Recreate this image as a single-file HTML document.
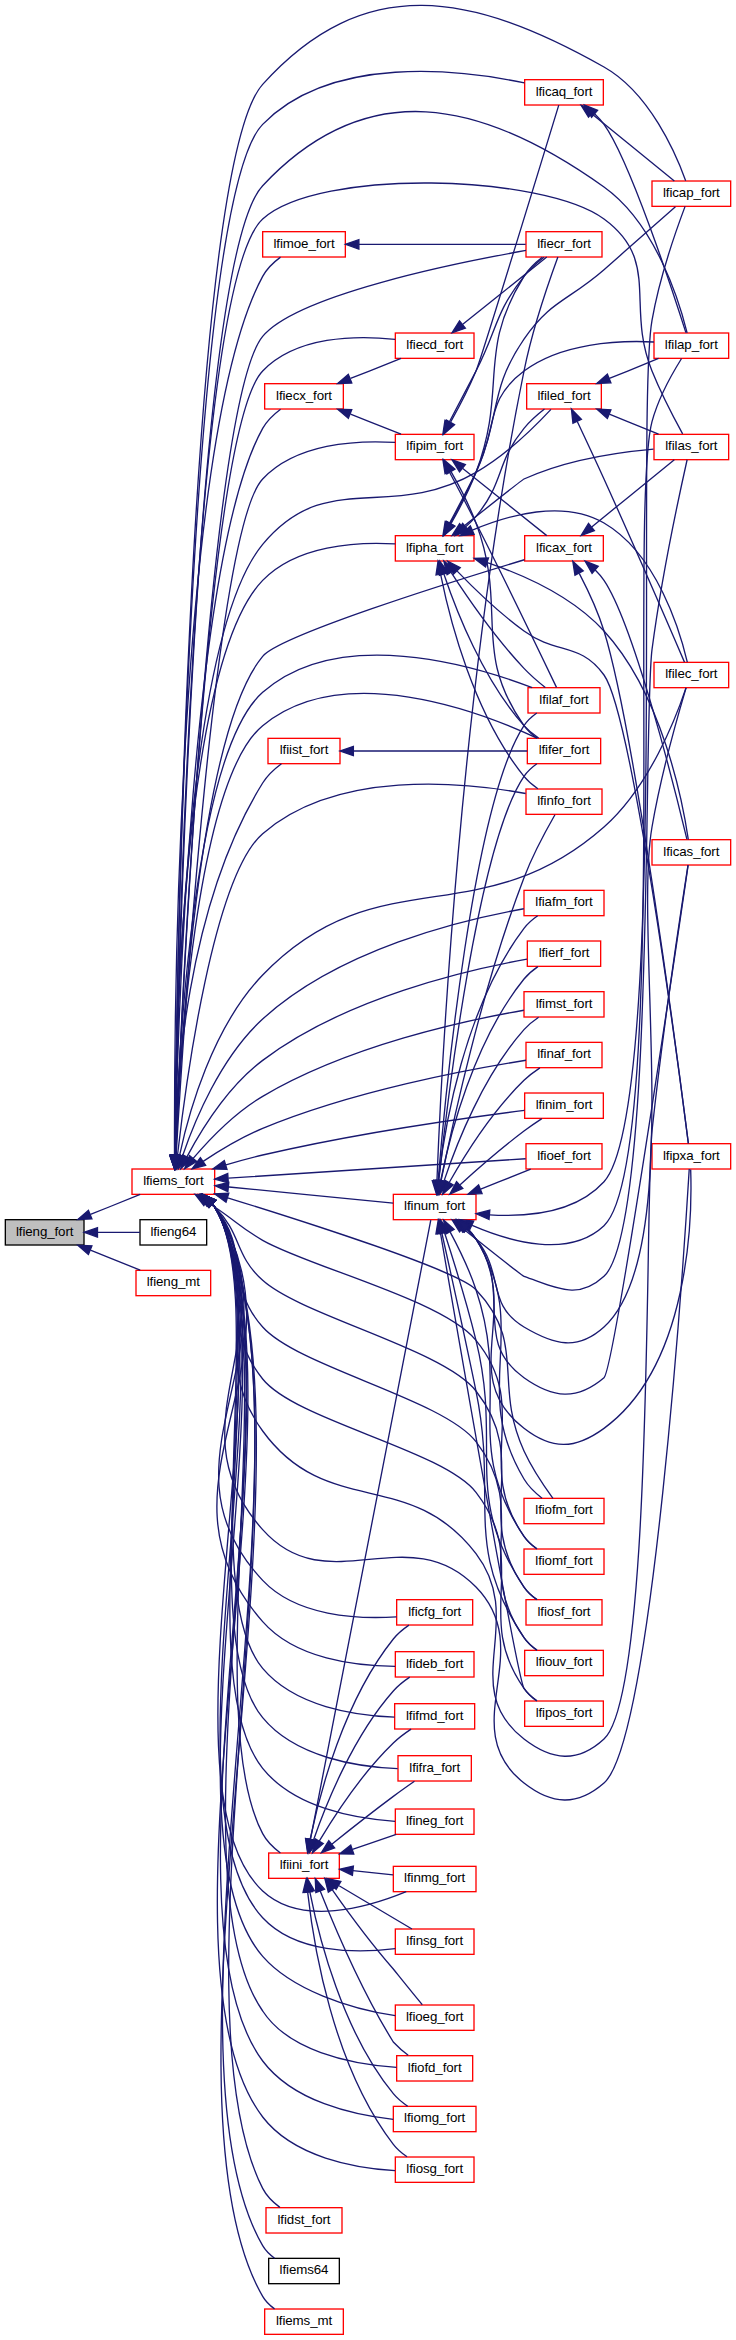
<!DOCTYPE html>
<html lang="en"><head><meta charset="utf-8"><title>lfieng_fort</title>
<style>
html,body{margin:0;padding:0;background:#fff}
svg{display:block}
.n rect{stroke-width:1.33}
.n text{font-family:"Liberation Sans","DejaVu Sans",sans-serif;font-size:13.33px;text-anchor:middle;letter-spacing:-0.1px;fill:#000}
.e path{fill:none;stroke:#191970;stroke-width:1.33}
.e polygon{fill:#191970;stroke:#191970;stroke-width:1.33}
</style></head>
<body>
<svg width="736" height="2340" viewBox="0 0 736 2340">
<rect x="0" y="0" width="736" height="2340" fill="#fff"/>
<g transform="translate(0 0)">
<g class="n">
<rect x="5.33" y="1219.68" width="78.67" height="25.33" fill="#bfbfbf" stroke="black"/><text x="44.67" y="1235.68">lfieng_fort</text>
<rect x="132" y="1169.01" width="82.67" height="25.33" fill="white" stroke="red"/><text x="173.33" y="1185.01">lfiems_fort</text>
<rect x="140" y="1219.68" width="66.67" height="25.33" fill="white" stroke="black"/><text x="173.33" y="1235.68">lfieng64</text>
<rect x="136" y="1270.35" width="74.67" height="25.33" fill="white" stroke="red"/><text x="173.33" y="1286.35">lfieng_mt</text>
<rect x="524" y="890.35" width="80" height="25.33" fill="white" stroke="red"/><text x="564" y="906.35">lfiafm_fort</text>
<rect x="652" y="181.01" width="78.67" height="25.33" fill="white" stroke="red"/><text x="691.33" y="197.01">lficap_fort</text>
<rect x="524.67" y="79.68" width="78.67" height="25.33" fill="white" stroke="red"/><text x="564" y="95.68">lficaq_fort</text>
<rect x="654" y="333.01" width="74.67" height="25.33" fill="white" stroke="red"/><text x="691.33" y="349.01">lfilap_fort</text>
<rect x="652" y="839.68" width="78.67" height="25.33" fill="white" stroke="red"/><text x="691.33" y="855.68">lficas_fort</text>
<rect x="524.67" y="535.68" width="78.67" height="25.33" fill="white" stroke="red"/><text x="564" y="551.68">lficax_fort</text>
<rect x="654" y="434.35" width="74.67" height="25.33" fill="white" stroke="red"/><text x="691.33" y="450.35">lfilas_fort</text>
<rect x="652" y="1143.68" width="78.67" height="25.33" fill="white" stroke="red"/><text x="691.33" y="1159.68">lfipxa_fort</text>
<rect x="396.67" y="1599.68" width="76" height="25.33" fill="white" stroke="red"/><text x="434.67" y="1615.68">lficfg_fort</text>
<rect x="395.33" y="1651.68" width="78.67" height="25.33" fill="white" stroke="red"/><text x="434.67" y="1667.68">lfideb_fort</text>
<rect x="266" y="2207.68" width="76" height="25.33" fill="white" stroke="red"/><text x="304" y="2223.68">lfidst_fort</text>
<rect x="395.33" y="333.01" width="78.67" height="25.33" fill="white" stroke="red"/><text x="434.67" y="349.01">lfiecd_fort</text>
<rect x="526" y="231.68" width="76" height="25.33" fill="white" stroke="red"/><text x="564" y="247.68">lfiecr_fort</text>
<rect x="264.67" y="383.68" width="78.67" height="25.33" fill="white" stroke="red"/><text x="304" y="399.68">lfiecx_fort</text>
<rect x="395.33" y="434.35" width="78.67" height="25.33" fill="white" stroke="red"/><text x="434.67" y="450.35">lfipim_fort</text>
<rect x="527.33" y="738.35" width="73.33" height="25.33" fill="white" stroke="red"/><text x="564" y="754.35">lfifer_fort</text>
<rect x="528" y="687.68" width="72" height="25.33" fill="white" stroke="red"/><text x="564" y="703.68">lfilaf_fort</text>
<rect x="268.67" y="2258.35" width="70.67" height="25.33" fill="white" stroke="black"/><text x="304" y="2274.35">lfiems64</text>
<rect x="264.67" y="2309.01" width="78.67" height="25.33" fill="white" stroke="red"/><text x="304" y="2325.01">lfiems_mt</text>
<rect x="527.33" y="941.01" width="73.33" height="25.33" fill="white" stroke="red"/><text x="564" y="957.01">lfierf_fort</text>
<rect x="394.67" y="1703.68" width="80" height="25.33" fill="white" stroke="red"/><text x="434.67" y="1719.68">lfifmd_fort</text>
<rect x="398" y="1755.68" width="73.33" height="25.33" fill="white" stroke="red"/><text x="434.67" y="1771.68">lfifra_fort</text>
<rect x="268.67" y="1853.01" width="70.67" height="25.33" fill="white" stroke="red"/><text x="304" y="1869.01">lfiini_fort</text>
<rect x="395.33" y="1809.01" width="78.67" height="25.33" fill="white" stroke="red"/><text x="434.67" y="1825.01">lfineg_fort</text>
<rect x="393.33" y="1866.35" width="82.67" height="25.33" fill="white" stroke="red"/><text x="434.67" y="1882.35">lfinmg_fort</text>
<rect x="395.33" y="1929.01" width="78.67" height="25.33" fill="white" stroke="red"/><text x="434.67" y="1945.01">lfinsg_fort</text>
<rect x="393.33" y="1194.35" width="82.67" height="25.33" fill="white" stroke="red"/><text x="434.67" y="1210.35">lfinum_fort</text>
<rect x="654" y="662.35" width="74.67" height="25.33" fill="white" stroke="red"/><text x="691.33" y="678.35">lfilec_fort</text>
<rect x="524" y="991.68" width="80" height="25.33" fill="white" stroke="red"/><text x="564" y="1007.68">lfimst_fort</text>
<rect x="526" y="1042.35" width="76" height="25.33" fill="white" stroke="red"/><text x="564" y="1058.35">lfinaf_fort</text>
<rect x="526" y="789.01" width="76" height="25.33" fill="white" stroke="red"/><text x="564" y="805.01">lfinfo_fort</text>
<rect x="524.67" y="1093.01" width="78.67" height="25.33" fill="white" stroke="red"/><text x="564" y="1109.01">lfinim_fort</text>
<rect x="526" y="1143.68" width="76" height="25.33" fill="white" stroke="red"/><text x="564" y="1159.68">lfioef_fort</text>
<rect x="524" y="1498.35" width="80" height="25.33" fill="white" stroke="red"/><text x="564" y="1514.35">lfiofm_fort</text>
<rect x="524" y="1549.01" width="80" height="25.33" fill="white" stroke="red"/><text x="564" y="1565.01">lfiomf_fort</text>
<rect x="526" y="1599.68" width="76" height="25.33" fill="white" stroke="red"/><text x="564" y="1615.68">lfiosf_fort</text>
<rect x="524.67" y="1650.35" width="78.67" height="25.33" fill="white" stroke="red"/><text x="564" y="1666.35">lfiouv_fort</text>
<rect x="524.67" y="1701.01" width="78.67" height="25.33" fill="white" stroke="red"/><text x="564" y="1717.01">lfipos_fort</text>
<rect x="395.33" y="2005.01" width="78.67" height="25.33" fill="white" stroke="red"/><text x="434.67" y="2021.01">lfioeg_fort</text>
<rect x="396.67" y="2055.68" width="76" height="25.33" fill="white" stroke="red"/><text x="434.67" y="2071.68">lfiofd_fort</text>
<rect x="393.33" y="2106.35" width="82.67" height="25.33" fill="white" stroke="red"/><text x="434.67" y="2122.35">lfiomg_fort</text>
<rect x="395.33" y="2157.01" width="78.67" height="25.33" fill="white" stroke="red"/><text x="434.67" y="2173.01">lfiosg_fort</text>
<rect x="268" y="738.35" width="72" height="25.33" fill="white" stroke="red"/><text x="304" y="754.35">lfiist_fort</text>
<rect x="526.67" y="383.68" width="74.67" height="25.33" fill="white" stroke="red"/><text x="564" y="399.68">lfiled_fort</text>
<rect x="262.67" y="231.68" width="82.67" height="25.33" fill="white" stroke="red"/><text x="304" y="247.68">lfimoe_fort</text>
<rect x="395.33" y="535.68" width="78.67" height="25.33" fill="white" stroke="red"/><text x="434.67" y="551.68">lfipha_fort</text>
</g>
<g class="e">
<path d="M90.47,1214.47C106.88,1207.87 125.15,1200.52 140.21,1194.47"/><polygon points="91.91,1218.92 77.8,1219.56 88.43,1210.25 91.91,1218.92"/>
<path d="M97.55,1232.35C111.89,1232.35 127.05,1232.35 139.93,1232.35"/><polygon points="97.48,1237.01 84.15,1232.35 97.48,1227.68 97.48,1237.01"/>
<path d="M90.47,1250.23C106.88,1256.83 125.15,1264.17 140.21,1270.23"/><polygon points="88.43,1254.44 77.8,1245.13 91.91,1245.77 88.43,1254.44"/>
<path d="M182.53,1156.04C194.53,1120.81 220.56,1057.45 262.67,1019.01C338.96,949.36 461.65,919.8 523.84,908.76"/><polygon points="186.93,1157.61 178.37,1168.85 178.05,1154.73 186.93,1157.61"/>
<path d="M174.89,1155.29C176.53,995.96 188.59,166.36 262.67,84.35C364.48,-28.37 471.67,-7.56 604,67.01C649.61,92.72 675.96,153.87 685.67,180.69"/><polygon points="179.56,1155.64 174.77,1168.93 170.23,1155.55 179.56,1155.64"/>
<path d="M174.89,1155.21C176.52,998.89 188.39,200.37 262.67,124.35C331.31,54.09 460.33,69.59 524.47,82.91"/><polygon points="179.56,1155.71 174.76,1169 170.23,1155.61 179.56,1155.71"/>
<path d="M175.09,1154.93C177.79,1003.56 194.41,258.43 262.67,185.68C366.47,75.04 480.49,98.92 604,187.01C655.79,223.95 679.52,302.08 687.12,332.84"/><polygon points="179.76,1155.47 174.87,1168.72 170.43,1155.31 179.76,1155.47"/>
<path d="M211.91,1203.51C212.89,1204.63 213.83,1205.8 214.67,1207.01C272.88,1290.55 202.68,1348.75 262.67,1431.01C327.11,1519.39 409.71,1466.69 476,1553.68C527.57,1621.36 456.71,1686.93 524,1739.01C552.12,1760.77 577.89,1763.15 604,1739.01C653.77,1693.01 644.75,1198.39 652,1131.01C663.07,1028.09 681.87,904.53 688,865.09"/><polygon points="208.68,1206.89 201.71,1194.6 214.83,1199.85 208.68,1206.89"/>
<path d="M175.67,1154.71C179.77,1058.47 198.25,733.51 262.67,656.35C280.09,635.47 447.52,583.01 524.4,559.76"/><polygon points="180.31,1155.44 175.12,1168.57 170.99,1155.07 180.31,1155.44"/>
<path d="M175.01,1155.2C177.2,1006.91 191.51,283.96 262.67,219.01C318.69,167.88 542.81,174.17 604,219.01C661.15,260.89 625.41,305.35 652,371.01C661.19,393.71 674.44,418.93 682.63,433.85"/><polygon points="179.68,1155.45 174.83,1168.72 170.35,1155.33 179.68,1155.45"/>
<path d="M212.01,1203.44C212.97,1204.59 213.85,1205.77 214.67,1207.01C293.75,1328.53 166.2,1421.44 262.67,1529.68C327.99,1602.97 407.36,1516.81 476,1587.01C538.71,1651.13 453.44,1727.65 524,1783.01C551.97,1804.96 577.2,1806.39 604,1783.01C652.31,1740.88 684.04,1254.25 689.24,1169.04"/><polygon points="208.77,1206.81 201.95,1194.44 215,1199.85 208.77,1206.81"/>
<path d="M212.04,1203.41C212.99,1204.57 213.87,1205.76 214.67,1207.01C304.52,1348.12 147.83,1458.71 262.67,1580.35C296.71,1616.4 357.47,1619.33 396.56,1616.83"/><polygon points="208.8,1206.79 202.03,1194.39 215.05,1199.85 208.8,1206.79"/>
<path d="M212.07,1203.4C213,1204.56 213.88,1205.76 214.67,1207.01C313.33,1364.13 140.25,1482.27 262.67,1621.68C295.51,1659.09 355.72,1666.16 395.13,1666.36"/><polygon points="208.83,1206.77 202.08,1194.36 215.09,1199.85 208.83,1206.77"/>
<path d="M212.57,1203.87C213.33,1204.88 214.03,1205.92 214.67,1207.01C324.59,1395.67 163.31,1993.93 262.67,2188.35C266.55,2195.95 273.15,2202.35 279.88,2207.39"/><polygon points="209.17,1207.07 202.75,1194.49 215.61,1200.32 209.17,1207.07"/>
<path d="M175.65,1155.08C180.85,1021.6 206.99,428.93 262.67,371.01C296.4,335.92 356.08,335.17 395.16,339.31"/><polygon points="180.31,1155.56 175.13,1168.71 170.97,1155.21 180.31,1155.56"/>
<path d="M175.69,1155.39C181.24,1019.59 209.29,401.21 262.67,336.35C296.51,295.23 453.61,263.25 525.99,250.44"/><polygon points="180.35,1155.75 175.16,1168.88 171.03,1155.37 180.35,1155.75"/>
<path d="M175.09,1155.27C177.43,1037.13 191.19,557.31 262.67,428.35C266.89,420.72 273.75,414.25 280.59,409.16"/><polygon points="179.76,1155.68 174.85,1168.93 170.43,1155.52 179.76,1155.68"/>
<path d="M176.15,1155.29C183.24,1033.48 215.29,529.35 262.67,479.01C296.24,443.33 355.96,440.05 395.09,442.43"/><polygon points="180.8,1155.71 175.37,1168.76 171.48,1155.17 180.8,1155.71"/>
<path d="M175.55,1155.24C179.11,1066.39 195.65,780.99 262.67,725.68C343.08,659.29 480.36,711.76 537.03,738.16"/><polygon points="180.21,1155.45 175.05,1168.61 170.88,1155.11 180.21,1155.45"/>
<path d="M175.28,1155.28C178.03,1062.59 192.4,754.21 262.67,692.35C338.72,625.37 472.39,664.79 532.21,687.59"/><polygon points="179.95,1155.48 174.92,1168.68 170.61,1155.23 179.95,1155.48"/>
<path d="M212.57,1203.87C213.33,1204.88 214.04,1205.92 214.67,1207.01C330.72,1406.81 146.61,2045.88 262.67,2245.68C265.56,2250.65 269.85,2254.8 274.59,2258.2"/><polygon points="209.17,1207.07 202.75,1194.49 215.63,1200.32 209.17,1207.07"/>
<path d="M212.59,1203.87C213.33,1204.88 214.04,1205.92 214.67,1207.01C336.15,1416.67 141.19,2086.69 262.67,2296.35C265.55,2301.32 269.85,2305.48 274.57,2308.88"/><polygon points="209.17,1207.07 202.76,1194.48 215.63,1200.32 209.17,1207.07"/>
<path d="M186.91,1156.83C201.49,1129.61 228.25,1086.39 262.67,1060.35C345.11,997.99 467.17,969.81 527,959.16"/><polygon points="191.01,1159.05 180.76,1168.76 182.72,1154.77 191.01,1159.05"/>
<path d="M212.49,1203.92C213.28,1204.91 214,1205.95 214.67,1207.01C268.97,1294.61 196.25,1589.52 262.67,1668.35C294.89,1706.6 354.97,1715.63 394.56,1717.12"/><polygon points="209.09,1207.13 202.53,1194.63 215.47,1200.31 209.09,1207.13"/>
<path d="M212.51,1203.91C213.28,1204.91 214.01,1205.95 214.67,1207.01C274.24,1304.19 190.29,1629.63 262.67,1717.68C295.44,1757.56 358.08,1766.97 397.68,1768.69"/><polygon points="209.11,1207.12 202.57,1194.6 215.49,1200.31 209.11,1207.12"/>
<path d="M212.53,1203.89C213.31,1204.89 214.01,1205.93 214.67,1207.01C286.64,1326.71 197.4,1710.2 262.67,1833.68C266.73,1841.39 273.56,1847.88 280.41,1852.96"/><polygon points="209.13,1207.09 202.64,1194.56 215.53,1200.31 209.13,1207.09"/>
<path d="M212.52,1203.89C213.29,1204.89 214.01,1205.93 214.67,1207.01C279.65,1314.03 184.28,1670.73 262.67,1768.35C294.45,1807.92 355.25,1818.69 395.04,1821.32"/><polygon points="209.12,1207.11 202.6,1194.57 215.51,1200.31 209.12,1207.11"/>
<path d="M212.55,1203.88C213.31,1204.89 214.03,1205.93 214.67,1207.01C292.76,1337.85 151.21,1787.11 262.67,1891.01C301.33,1927.07 368.75,1907.19 406.23,1891.72"/><polygon points="209.15,1207.09 202.65,1194.55 215.56,1200.31 209.15,1207.09"/>
<path d="M212.55,1203.88C213.31,1204.89 214.03,1205.93 214.67,1207.01C295.61,1343.04 154.85,1801.79 262.67,1917.68C295.88,1953.39 355.99,1953.36 395.28,1948.61"/><polygon points="209.15,1207.09 202.67,1194.53 215.56,1200.31 209.15,1207.09"/>
<path d="M228.92,1187C277.97,1191.8 349.09,1198.76 393.2,1203.08"/><polygon points="227.89,1191.59 215.08,1185.64 228.81,1182.29 227.89,1191.59"/>
<path d="M179.51,1155.53C188.67,1112.72 212.29,1027.24 262.67,975.01C377.44,855.99 480.03,936.43 604,827.01C649.47,786.89 676.39,716.68 685.99,687.89"/><polygon points="184.05,1156.61 176.85,1168.76 174.89,1154.77 184.05,1156.61"/>
<path d="M193.15,1158.44C209.53,1139.25 235.09,1112.64 262.67,1096.35C348.25,1045.76 464.28,1020.55 523.84,1010.24"/><polygon points="196.71,1161.45 184.61,1168.73 189.52,1155.49 196.71,1161.45"/>
<path d="M203.16,1161.35C219.83,1150.24 241.68,1137.03 262.67,1128.35C353.57,1090.73 468.29,1069.36 525.99,1060.28"/><polygon points="205.65,1165.29 192.01,1168.96 200.39,1157.59 205.65,1165.29"/>
<path d="M177.49,1155.24C185.92,1081.55 213.45,876.39 262.67,833.68C336.84,769.32 463.29,782.07 525.65,793.51"/><polygon points="182.08,1156.13 175.97,1168.87 172.81,1155.11 182.08,1156.13"/>
<path d="M226,1164.89C237.96,1161.32 250.69,1157.8 262.67,1155.01C355.72,1133.36 467.16,1117.67 524.47,1110.33"/><polygon points="227.04,1169.45 212.92,1168.89 224.31,1160.53 227.04,1169.45"/>
<path d="M228.36,1178.17C308.35,1172.95 456.73,1163.27 525.68,1158.76"/><polygon points="228.33,1182.85 214.73,1179.07 227.73,1173.53 228.33,1182.85"/>
<path d="M227.64,1197.8C309.29,1223.07 458.36,1271.04 476,1289.68C527.43,1344.01 492.76,1383.04 524,1451.01C531.97,1468.36 544.35,1486.55 552.93,1498.29"/><polygon points="226.04,1202.19 214.67,1193.8 228.79,1193.27 226.04,1202.19"/>
<path d="M206.76,1201.84C209.44,1203.57 212.11,1205.32 214.67,1207.01C236.31,1221.37 240.16,1227.39 262.67,1240.35C308.04,1266.48 442.83,1299.84 476,1340.35C532.83,1409.72 472.21,1463.12 524,1536.35C527.43,1541.2 532.11,1545.36 537.03,1548.83"/><polygon points="203.84,1205.52 195.12,1194.4 208.87,1197.65 203.84,1205.52"/>
<path d="M210.03,1202.81C211.64,1204.17 213.2,1205.57 214.67,1207.01C242.41,1234.35 233.76,1254.23 262.67,1280.35C302.29,1316.16 443,1349.03 476,1391.01C531.43,1461.52 472.21,1513.79 524,1587.01C527.43,1591.87 532.11,1596.03 537.03,1599.49"/><polygon points="206.77,1206.21 198.75,1194.6 212.27,1198.68 206.77,1206.21"/>
<path d="M211.05,1203.11C212.33,1204.36 213.55,1205.67 214.67,1207.01C251.37,1251.19 224.4,1284.17 262.67,1327.01C298.52,1367.16 443.05,1399.12 476,1441.68C530.91,1512.59 472.21,1564.45 524,1637.68C527.43,1642.53 532.11,1646.69 537.03,1650.16"/><polygon points="207.79,1206.47 200.27,1194.52 213.6,1199.17 207.79,1206.47"/>
<path d="M211.33,1203.07C212.53,1204.32 213.64,1205.64 214.67,1207.01C262.01,1270.71 212.93,1317.16 262.67,1379.01C296.31,1420.84 443.03,1449.99 476,1492.35C531.08,1563.12 472.21,1615.12 524,1688.35C527.43,1693.2 532.11,1697.36 537.03,1700.83"/><polygon points="208.31,1206.61 201.07,1194.48 214.29,1199.45 208.31,1206.61"/>
<path d="M212.55,1203.88C213.32,1204.89 214.03,1205.93 214.67,1207.01C299.75,1350.55 153.47,1830.19 262.7,1956.4C292,1990 350,2009 395.3,2015.7"/><polygon points="209.15,1207.09 202.68,1194.53 215.57,1200.31 209.15,1207.09"/>
<path d="M212.56,1203.88C213.32,1204.88 214.03,1205.93 214.67,1207.01C304.17,1358.59 163.5,1868.4 262.7,2011C288,2050 348,2064 396.5,2067.3"/><polygon points="209.16,1207.08 202.69,1194.52 215.59,1200.32 209.16,1207.08"/>
<path d="M212.56,1203.88C213.32,1204.88 214.03,1205.93 214.67,1207.01C310.6,1370.25 149.4,1909 262.7,2061C293.1,2101.5 353,2115 393.2,2119.4"/><polygon points="209.16,1207.08 202.71,1194.51 215.59,1200.32 209.16,1207.08"/>
<path d="M212.57,1203.87C213.33,1204.88 214.03,1205.93 214.67,1207.01C316.59,1381.15 140,1957 262.7,2117C293.7,2157.3 355.1,2168.2 395.1,2170.6"/><polygon points="209.16,1207.08 202.73,1194.51 215.6,1200.32 209.16,1207.08"/>
<path d="M174.61,1155.24C175.64,1087.87 185.88,906.4 262.67,783.01C267.36,775.47 274.49,768.93 281.44,763.77"/><polygon points="179.28,1155.52 174.51,1168.81 169.95,1155.45 179.28,1155.52"/>
<path d="M174.73,1154.72C175.56,1045.79 183.93,639.49 262.67,544.35C326.47,467.25 389.29,522.31 476,472.35C506.17,454.96 535.36,426.11 550.97,409.4"/><polygon points="179.4,1155.25 174.67,1168.56 170.07,1155.2 179.4,1155.25"/>
<path d="M174.51,1155.55C174.13,1023.95 177.29,433.95 262.67,276.35C266.81,268.68 273.65,262.2 280.51,257.11"/><polygon points="179.17,1155.61 174.57,1168.96 169.84,1155.65 179.17,1155.61"/>
<path d="M174.63,1155.25C175.01,1050.25 182.03,664.29 262.67,580.35C296.6,545.03 356.23,541.65 395.24,543.89"/><polygon points="179.29,1155.31 174.6,1168.63 169.96,1155.29 179.29,1155.31"/>
<path d="M591.71,113.79C616.76,134.15 653.61,164.11 674.33,180.95"/><polygon points="588.52,117.21 581.12,105.19 594.41,109.97 588.52,117.21"/>
<path d="M594.81,113.92C598.17,117.17 601.35,120.67 604,124.35C629.81,160.12 672.56,290.75 685.89,332.65"/><polygon points="591.52,117.24 584.43,105.03 597.59,110.16 591.52,117.24"/>
<path d="M595.23,569.95C598.49,573.17 601.52,576.67 604,580.35C634.16,625.12 675.32,790.88 686.87,839.11"/><polygon points="592.09,573.41 585.08,561.15 598.21,566.36 592.09,573.41"/>
<path d="M591.71,526.91C616.76,506.55 653.61,476.59 674.33,459.75"/><polygon points="594.41,530.72 581.12,535.51 588.52,523.48 594.41,530.72"/>
<path d="M579.25,573.39C587.61,589.41 597.79,610.91 604,631.01C635.27,732.11 679.41,1072.71 688.37,1143.43"/><polygon points="575,575.31 572.8,561.36 583.21,570.89 575,575.31"/>
<path d="M462.8,324.24C488.25,303.88 525.69,273.92 546.76,257.08"/><polygon points="465.37,328.16 452.04,332.84 459.53,320.87 465.37,328.16"/>
<path d="M350.51,378.47C367.19,371.87 385.73,364.52 401.04,358.47"/><polygon points="351.75,382.99 337.63,383.56 348.31,374.32 351.75,382.99"/>
<path d="M350.51,414.23C367.19,420.83 385.73,428.17 401.04,434.23"/><polygon points="348.31,418.37 337.63,409.13 351.75,409.71 348.31,418.37"/>
<path d="M450.69,421.92C458.83,407.37 468.75,388.52 476,371.01C481.39,358.03 542.6,158 558.77,105.11"/><polygon points="454.51,424.65 443.84,433.92 446.4,420.03 454.51,424.65"/>
<path d="M462.8,468.45C488.25,488.81 525.69,518.77 546.76,535.61"/><polygon points="459.53,471.83 452.04,459.85 465.37,464.53 459.53,471.83"/>
<path d="M449.32,421.95C457.15,407.16 467.2,388.05 476,371.01C497.65,329.11 494.55,313.2 524,276.35C529.65,269.27 537.11,262.65 543.95,257.31"/><polygon points="453.23,424.55 442.85,434.13 444.97,420.17 453.23,424.55"/>
<path d="M451.16,471.92C459.44,486.41 469.35,505.27 476,523.01C508.48,609.69 470.84,649.89 524,725.68C527.41,730.55 532.08,734.71 537,738.17"/><polygon points="446.88,473.85 444.13,460 454.92,469.12 446.88,473.85"/>
<path d="M449.41,472.03C457.27,486.81 467.32,505.91 476,523.01C507.01,584.13 542.47,657.99 556.49,687.37"/><polygon points="445.08,473.83 442.91,459.87 453.31,469.43 445.08,473.83"/>
<path d="M310.17,1839.13C319.53,1793.91 343.71,1700.81 393.33,1639.01C397.61,1633.68 403.27,1629.03 408.96,1625.16"/><polygon points="314.69,1840.33 307.56,1852.52 305.53,1838.53 314.69,1840.33"/>
<path d="M313.45,1840.25C326.01,1803.95 352.99,1736.57 393.33,1691.01C397.99,1685.76 403.88,1681.09 409.72,1677.17"/><polygon points="317.85,1841.79 309.21,1852.96 309,1838.83 317.85,1841.79"/>
<path d="M319.24,1841.17C334.96,1814.89 362.4,1772.91 393.33,1743.01C398.61,1737.91 404.99,1733.16 411.09,1729.13"/><polygon points="323.27,1843.55 312.51,1852.69 315.21,1838.83 323.27,1843.55"/>
<path d="M331.79,1844.2C349.09,1830.31 372.33,1811.95 393.33,1796.35C400.13,1791.29 407.73,1785.91 414.45,1781.24"/><polygon points="334.65,1847.89 321.35,1852.63 328.79,1840.63 334.65,1847.89"/>
<path d="M352.45,1849.48C366.89,1844.52 382.57,1839.13 396.24,1834.43"/><polygon points="353.76,1853.97 339.64,1853.89 350.73,1845.15 353.76,1853.97"/>
<path d="M352.92,1870.64C366.11,1872.01 380.29,1873.49 393.03,1874.81"/><polygon points="352.41,1875.28 339.64,1869.25 353.39,1865.99 352.41,1875.28"/>
<path d="M339.07,1885.71C362.15,1899.41 392.07,1917.17 411.95,1928.97"/><polygon points="336.13,1889.39 327.05,1878.57 340.89,1881.37 336.13,1889.39"/>
<path d="M310.47,1839.28C332.05,1728.2 415.09,1300.89 430.77,1220.2"/><polygon points="315.01,1840.32 307.89,1852.52 305.85,1838.55 315.01,1840.32"/>
<path d="M332.2,1889.6C344,1906.5 368,1940 393.3,1969C402.4,1980.3 413.9,1994.7 422.3,2004.7"/><polygon points="328.31,1892.19 324.8,1878.5 336.09,1887.01 328.31,1892.19"/>
<path d="M320.2,1890.9C331,1918 358,1985 393.3,2042C398,2047 403,2051.5 408.2,2055.3"/><polygon points="315.86,1892.62 315.3,1878.5 324.54,1889.18 315.86,1892.62"/>
<path d="M309.85,1891.85C318.81,1937.29 342.55,2031.8 393.33,2093.68C397.29,2098.51 402.43,2102.71 407.69,2106.21"/><polygon points="305.21,1892.41 307.36,1878.45 314.39,1890.71 305.21,1892.41"/>
<path d="M307.64,1892.09C313.48,1945.07 332.92,2065.88 393.33,2144.35C397.04,2149.17 401.95,2153.32 407.05,2156.79"/><polygon points="303,1892.51 306.32,1878.77 312.28,1891.57 303,1892.51"/>
<path d="M438.41,1180.68C444.43,1127.85 464.2,1007.28 524,928.35C527.68,923.48 532.59,919.28 537.67,915.76"/><polygon points="443.05,1181.19 437.04,1193.96 433.77,1180.21 443.05,1181.19"/>
<path d="M489.45,1214.84C527.16,1217.07 575.8,1212.67 604,1181.68C668.52,1110.79 635.45,414.76 652,320.35C659.49,277.6 676.64,228.93 685.09,206.39"/><polygon points="489.03,1219.49 476.12,1213.76 489.79,1210.19 489.03,1219.49"/>
<path d="M472.13,1225.39C510.09,1241.8 569.04,1258.63 604,1225.68C669.13,1164.32 628.85,508.13 652,421.68C658.33,398.03 672.43,373.09 681.56,358.48"/><polygon points="469.84,1229.48 459.65,1219.68 473.72,1220.99 469.84,1229.48"/>
<path d="M466.84,1228.59C470.23,1231.81 473.39,1235.31 476,1239.01C513.61,1292.29 470.88,1339.85 524,1377.68C552.96,1398.31 576.91,1400.71 604,1377.68C614.21,1369 676.55,944.6 688.15,865.11"/><polygon points="463.55,1231.92 456.33,1219.77 469.55,1224.76 463.55,1231.92"/>
<path d="M462.52,1228.25C487.76,1248.4 522.15,1275.71 524,1276.35C557.6,1287.99 577.92,1300.51 604,1276.35C655.23,1228.89 642.88,718.92 652,649.68C661.53,577.28 680,491.57 687.11,459.75"/><polygon points="459.56,1231.85 452.07,1219.88 465.39,1224.56 459.56,1231.85"/>
<path d="M467.35,1228.56C470.6,1231.77 473.59,1235.28 476,1239.01C523,1312 455.49,1375.04 524,1428.35C552.07,1450.19 575.32,1449.36 604,1428.35C690.29,1365.12 692.19,1214.95 690.68,1169.56"/><polygon points="464.23,1232.04 457.09,1219.85 470.28,1224.93 464.23,1232.04"/>
<path d="M436.95,1180.33C441.07,1075.92 460.11,685.25 524,371.01C532.65,328.43 549.61,279.68 557.88,257.08"/><polygon points="441.6,1180.96 436.43,1194.11 432.27,1180.6 441.6,1180.96"/>
<path d="M438.72,1180.6C447.68,1097.63 478.32,843.67 524,776.35C527.33,771.43 531.97,767.24 536.88,763.77"/><polygon points="443.35,1181.25 437.31,1194.03 434.07,1180.28 443.35,1181.25"/>
<path d="M438.05,1181.04C445.49,1092.25 473.28,802.13 524,725.68C527.28,720.73 531.89,716.53 536.8,713.05"/><polygon points="442.71,1181.44 436.97,1194.35 433.4,1180.68 442.71,1181.44"/>
<path d="M440.61,1180.92C449.73,1135.61 473.69,1041.28 524,979.01C527.83,974.27 532.8,970.11 537.88,966.6"/><polygon points="445.15,1182.05 438.08,1194.29 435.99,1180.32 445.15,1182.05"/>
<path d="M465.72,1228.53C469.4,1231.83 472.93,1235.36 476,1239.01C504.63,1273.16 485.69,1304.27 524,1327.01C554.57,1345.16 577.68,1350.92 604,1327.01C686.61,1251.95 633.08,937.01 652,827.01C660.99,774.73 678.33,713.91 686.09,687.89"/><polygon points="462.63,1232.03 455.28,1219.96 468.55,1224.81 462.63,1232.03"/>
<path d="M443.97,1181.16C456.35,1144.23 483.12,1075.76 524,1029.68C528.16,1025 533.37,1020.81 538.61,1017.27"/><polygon points="448.33,1182.81 439.8,1194.07 439.45,1179.95 448.33,1182.81"/>
<path d="M449.21,1182.48C464.65,1155.33 492.17,1111.32 524,1080.35C528.72,1075.76 534.37,1071.51 539.89,1067.85"/><polygon points="453.19,1184.93 442.64,1194.32 445.03,1180.4 453.19,1184.93"/>
<path d="M441,1181.05C452.28,1124.67 482.01,987.25 524,877.68C532.79,854.73 546.44,829.59 554.95,814.75"/><polygon points="445.57,1181.96 438.43,1194.15 436.41,1180.16 445.57,1181.96"/>
<path d="M460.13,1184.64C477.43,1169 501.52,1147.96 524,1131.01C529.64,1126.76 535.97,1122.44 541.85,1118.6"/><polygon points="462.84,1188.49 449.84,1194.04 456.55,1181.6 462.84,1188.49"/>
<path d="M480.71,1189.13C497.21,1182.53 515.56,1175.19 530.72,1169.13"/><polygon points="482.08,1193.61 467.96,1194.23 478.61,1184.95 482.08,1193.61"/>
<path d="M467.53,1228.45C470.76,1231.68 473.69,1235.21 476,1239.01C532.56,1331.93 468.21,1385.63 524,1479.01C528.47,1486.49 535.35,1493.01 542.07,1498.19"/><polygon points="464.41,1231.92 457.31,1219.72 470.48,1224.83 464.41,1231.92"/>
<path d="M450.23,1232.07C458.8,1248.09 469.31,1269.59 476,1289.68C511.28,1395.64 461.72,1443.64 524,1536.35C527.31,1541.28 531.93,1545.47 536.84,1548.95"/><polygon points="445.95,1233.96 443.61,1220.03 454.12,1229.47 445.95,1233.96"/>
<path d="M444.56,1232.79C453.24,1259.49 466.67,1302.53 476,1340.35C502.75,1448.79 461.72,1494.31 524,1587.01C527.31,1591.95 531.93,1596.13 536.84,1599.61"/><polygon points="440.01,1233.89 440.29,1219.77 448.88,1230.99 440.01,1233.89"/>
<path d="M441.89,1233.25C449.87,1268.92 464.4,1334.71 476,1391.01C498.53,1500.4 461.72,1544.97 524,1637.68C527.31,1642.61 531.93,1646.8 536.84,1650.28"/><polygon points="437.27,1233.96 438.91,1219.93 446.37,1231.92 437.27,1233.96"/>
<path d="M440.52,1233.33C457.61,1332.52 517.56,1678.65 524,1688.35C527.28,1693.29 531.89,1697.49 536.8,1700.97"/><polygon points="435.91,1234.01 438.24,1220.08 445.11,1232.44 435.91,1234.01"/>
<path d="M353.49,751.01C404,751.01 482.17,751.01 527.28,751.01"/><polygon points="353.37,755.68 340.04,751.01 353.37,746.35 353.37,755.68"/>
<path d="M609.33,378.47C625.57,371.87 643.64,364.52 658.55,358.47"/><polygon points="610.91,382.87 596.79,383.56 607.39,374.21 610.91,382.87"/>
<path d="M609.33,414.23C625.57,420.83 643.64,428.17 658.55,434.23"/><polygon points="607.39,418.48 596.79,409.13 610.91,409.83 607.39,418.48"/>
<path d="M577.27,421.47C585,437.81 595.21,459.63 604,479.01C635.13,547.72 670.97,630.71 684.47,662.12"/><polygon points="572.95,423.24 571.45,409.19 581.39,419.24 572.95,423.24"/>
<path d="M358.96,244.35C408.88,244.35 481.95,244.35 525.67,244.35"/><polygon points="358.88,249.01 345.55,244.35 358.88,239.68 358.88,249.01"/>
<path d="M450.4,523.13C458.44,508.55 468.36,489.69 476,472.35C501.4,414.71 488.37,390.96 524,339.01C550.61,300.21 568.6,300.67 604,269.68C629.19,247.64 658.36,221.8 675.43,206.63"/><polygon points="454.24,525.83 443.65,535.17 446.11,521.25 454.24,525.83"/>
<path d="M449.48,523.36C457.37,508.6 467.43,489.51 476,472.35C498.28,427.77 484.03,400.77 524,371.01C561.65,342.99 617.6,340.19 653.95,341.97"/><polygon points="453.37,525.99 442.96,535.52 445.16,521.57 453.37,525.99"/>
<path d="M487.33,562.55C524.19,575.12 572.69,596.87 604,631.01C662.51,694.83 682.89,802.88 688.33,839.65"/><polygon points="485.57,566.89 474.33,558.33 488.45,558.01 485.57,566.89"/>
<path d="M462.56,527.19C487.81,507.09 522.21,479.83 524,479.01C565.91,459.85 618.85,452.16 653.52,449.07"/><polygon points="465.41,530.87 452.08,535.52 459.6,523.56 465.41,530.87"/>
<path d="M457.16,571.15C474.19,588.75 499.28,613.05 524,631.01C556.83,654.87 580.35,642.04 604,675.01C632.39,714.59 679,1070.04 688.33,1143.21"/><polygon points="453.48,574.04 447.67,561.16 460.24,567.61 453.48,574.04"/>
<path d="M451.11,523.43C459.37,508.92 469.28,490.07 476,472.35C507.79,388.48 476.37,352.35 524,276.35C528.63,268.96 535.53,262.47 542.24,257.29"/><polygon points="454.88,526.21 444.11,535.35 446.83,521.49 454.88,526.21"/>
<path d="M443.97,574.2C456.35,611.13 483.12,679.6 524,725.68C528.16,730.36 533.37,734.55 538.61,738.09"/><polygon points="439.45,575.41 439.8,561.29 448.33,572.55 439.45,575.41"/>
<path d="M451.11,572.44C467.49,597.67 495.19,637.8 524,668.35C530.45,675.19 538.35,681.96 545.31,687.49"/><polygon points="447.07,574.79 443.81,561.04 454.93,569.76 447.07,574.79"/>
<path d="M472.35,530.13C508.2,514.96 563.37,499.32 604,523.01C657.17,554.01 680.09,631.43 687.31,662.15"/><polygon points="474.15,534.44 460.08,535.63 470.33,525.92 474.15,534.44"/>
<path d="M440.61,574.44C449.73,619.75 473.69,714.08 524,776.35C527.83,781.09 532.8,785.25 537.88,788.76"/><polygon points="435.99,575.04 438.08,561.07 445.15,573.31 435.99,575.04"/>
<path d="M465.72,526.83C469.4,523.53 472.93,520 476,516.35C504.63,482.2 495.67,462.72 524,428.35C529.88,421.21 537.52,414.51 544.45,409.09"/><polygon points="468.55,530.55 455.28,535.4 462.63,523.33 468.55,530.55"/>
</g>
</g>
</svg>
</body></html>
